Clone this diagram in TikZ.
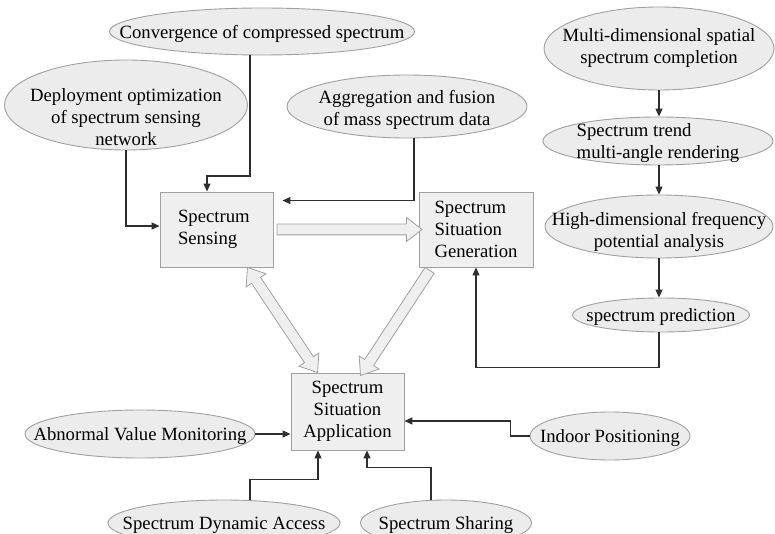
\documentclass[tikz,border=0pt]{standalone}
\usepackage{fontspec}
\setmainfont{Liberation Serif}
\usetikzlibrary{shapes.geometric,shapes.arrows,arrows.meta,calc}
\definecolor{boxfill}{HTML}{EFEFEF}
\definecolor{ellfill}{HTML}{ECECEC}
\definecolor{edge}{HTML}{A0A0A0}
\definecolor{conn}{HTML}{2E2E2E}
% zero-size text block so the ellipse keeps its own size; #1 = extra downward shift
\newcommand\etc[2][0]{\makebox[0pt][c]{\raisebox{\dimexpr-6.5pt-#1pt\relax}[0pt][0pt]{\begin{tabular}{@{}c@{}}#2\end{tabular}}}}
\newcommand\etl[2][0]{\makebox[0pt][c]{\raisebox{\dimexpr-6.5pt-#1pt\relax}[0pt][0pt]{\begin{tabular}{@{}l@{}}#2\end{tabular}}}}
\begin{document}
\begin{tikzpicture}[x=1pt,y=-1pt,
  every node/.style={font=\fontsize{18.7}{22}\selectfont, text=black},
  box/.style={draw=edge, fill=boxfill, line width=0.9pt, rectangle, minimum height=75, inner ysep=0},
  ell/.style={draw=edge, fill=ellfill, line width=0.9pt, ellipse, inner sep=0},
  arr/.style={draw=conn, line width=1.2pt, -{Triangle[length=8pt,width=7pt]}},
  fatbase/.style={draw=edge, fill=boxfill, line width=0.8pt, minimum width=23, inner sep=0, text height=5pt, text depth=5pt, text width=0pt},
  fatarrow/.style={fatbase, single arrow, single arrow head extend=6.5pt, single arrow head indent=0pt, single arrow tip angle=75},
  fatdouble/.style={fatbase, double arrow, double arrow head extend=6.5pt, double arrow head indent=0pt, double arrow tip angle=75}
]
\useasboundingbox (0,0) rectangle (775,534);
\clip (0,0) rectangle (775,534);

% boxes
\node[box, text width=77, inner xsep=18, align=left] (sens) at (216.5,229.5) {Spectrum\\Sensing};
\node[box, text width=83, inner xsep=15.5, align=left] (gen) at (476,229.5) {Spectrum\\Situation\\Generation};
\node[box, text width=105, inner xsep=4, align=center, minimum height=77] (app) at (347.5,411.5) {Spectrum\\Situation\\Application};

% ellipses
\node[ell, minimum width=305, minimum height=47] (conv) at (262,31.5) {\etc{Convergence of compressed spectrum}};
\node[ell, minimum width=243, minimum height=90] (dep) at (126,105) {\etc[12]{Deployment optimization\\of spectrum sensing\\network}};
\node[ell, minimum width=240, minimum height=63] (agg) at (407,106.5) {\etc[1.5]{Aggregation and fusion\\of mass spectrum data}};
\node[ell, minimum width=230, minimum height=83] (multi) at (659,48.5) {\etc[-2.5]{Multi-dimensional spatial\\spectrum completion}};
\node[ell, minimum width=230, minimum height=48] (trend) at (658,141) {\etl{Spectrum trend\\multi-angle rendering}};
\node[ell, minimum width=228, minimum height=63] (high) at (659,226.5) {\etc[3.5]{High-dimensional frequency\\potential analysis}};
\node[ell, minimum width=177, minimum height=34] (pred) at (661,315) {\etc{spectrum prediction}};
\node[ell, minimum width=230, minimum height=48] (abn) at (140,434) {\etc{Abnormal Value Monitoring}};
\node[ell, minimum width=160, minimum height=48] (ind) at (610,436) {\etc{Indoor Positioning}};
\node[ell, minimum width=232, minimum height=46] (dyn) at (224,523) {\etc{Spectrum Dynamic Access}};
\node[ell, minimum width=171, minimum height=46] (share) at (446,523) {\etc{Spectrum Sharing}};

% thin connectors
\draw[arr] (dep.south) |- ($(sens.west)+(0,-3.5)$);
\draw[arr] ($(conv.south)+(-12,0)$) -- ++(0,120.5) -| ($(sens.north)+(-9.5,0)$);
\coordinate (aggend) at ($(sens.north east)+(9,9)$);
\draw[arr] ($(agg.south)+(7,0)$) |- (aggend);
\draw[arr] (multi.south) -- (multi.south |- trend.north);
\draw[arr] ($(trend.south)+(1,0)$) -- ($(trend.south |- high.north)+(1,0)$);
\draw[arr] (high.south) -- (high.south |- pred.north);
\draw[arr] ($(pred.south)+(-2,0)$) -- ++(0,35) -| (gen.south);
\draw[arr] (abn.east) -- (abn.east -| app.west);
\draw[arr] (ind.west) -- ++(-19,0) |- ($(app.east)+(0,9.5)$);
\draw[arr] ($(dyn.north)+(26,0)$) -- ++(0,-20) -| ($(app.south)+(-29.5,0)$);
\draw[arr] ($(share.north)+(-15,0)$) -- ++(0,-32) -| ($(app.south)+(19.5,0)$);

% wide arrows
\path let \p1=(sens.east), \p2=(gen.west), \n1={veclen(\x2-\x1,\y2-\y1)} in
  (\p1) -- (\p2) node[fatarrow, midway, sloped, allow upside down, minimum height=\n1] (fa1) {};
\path let \p1=($(sens.south east)+(-26,0)$), \p2=($(app.north west)+(27,0)$), \n1={veclen(\x2-\x1,\y2-\y1)} in
  (\p1) -- (\p2) node[fatdouble, midway, sloped, allow upside down, minimum height=\n1] (fa2) {};
\path let \p1=($(gen.south west)+(13,0)$), \p2=($(app.north)+(15,0)$), \n1={veclen(\x2-\x1,\y2-\y1)} in
  (\p1) -- (\p2) node[fatarrow, midway, sloped, allow upside down, minimum height=\n1] (fa3) {};
\end{tikzpicture}
\end{document}
